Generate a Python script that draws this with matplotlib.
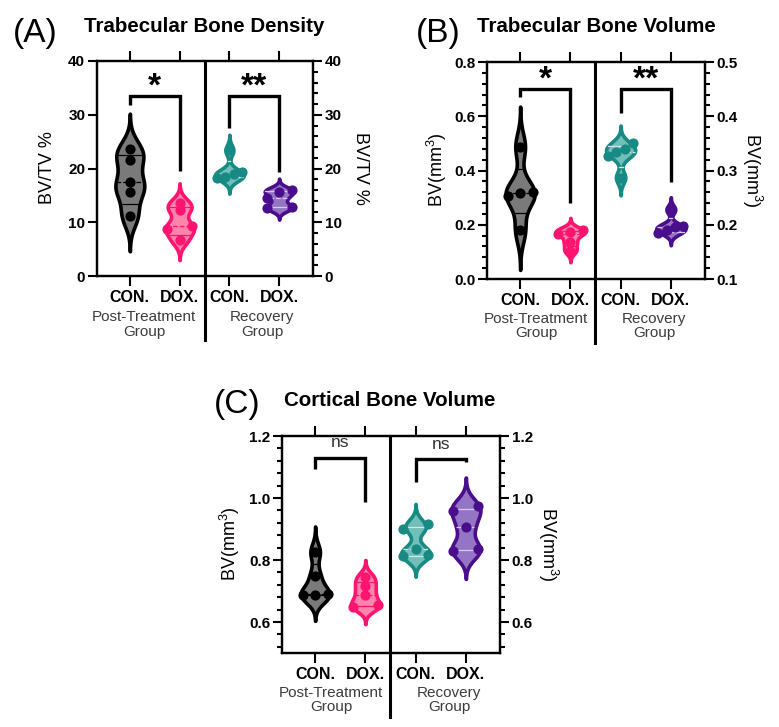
import numpy as np
import matplotlib
matplotlib.use('Agg')
import matplotlib.pyplot as plt
from matplotlib import transforms

plt.rcParams['font.family'] = ['Liberation Sans', 'DejaVu Sans']
plt.rcParams['mathtext.fontset'] = 'custom'
plt.rcParams['mathtext.rm'] = 'Liberation Sans'
plt.rcParams['mathtext.default'] = 'regular'

##########################################################################
# Data

groups = ['CON.', 'DOX.', 'CON.', 'DOX.']

## (A) Trabecular bone density, BV/TV %
a_post_con = [23.6, 21.5, 17.4, 15.7, 11.2]
a_post_dox = [13.5, 12.3, 9.3, 8.7, 6.7]
a_rec_con = [23.4, 19.4, 18.9, 18.5, 18.2]
a_rec_dox = [16.0, 15.7, 14.6, 12.9, 12.6]
a_sig = ['*', '**']
a_brackets = [(31.9, 33.5, 19.6), (27.5, 33.5, 19.4)]   # left leg end, top, right leg end

## (B) Trabecular bone volume, mm^3 (recovery on right axis)
b_post_con = [0.488, 0.32, 0.318, 0.306, 0.181]
b_post_dox = [0.182, 0.175, 0.165, 0.135, 0.105]
b_rec_con = [0.35, 0.34, 0.335, 0.327, 0.287]
b_rec_dox = [0.228, 0.198, 0.195, 0.19, 0.185]
b_sig = ['*', '**']
b_brackets = [(0.672, 0.702, 0.279), (0.613, 0.702, 0.359)]

## (C) Cortical bone volume, mm^3
c_post_con = [0.826, 0.748, 0.69, 0.688, 0.686]
c_post_dox = [0.745, 0.716, 0.686, 0.656, 0.648]
c_rec_con = [0.915, 0.9, 0.835, 0.815, 0.812]
c_rec_dox = [0.975, 0.957, 0.907, 0.834, 0.83]
c_sig = ['ns', 'ns']
c_brackets = [(1.095, 1.13, 0.988), (1.052, 1.125, 1.117)]

##########################################################################

W, H = 779, 727
fig = plt.figure(figsize=(W / 100, H / 100), dpi=100)

## Colors: edge, fill, quartile lines
c = {'con_post': ('#000000', '#7a7a7a', '#000000'),
     'dox_post': ('#ff1470', '#ff85ad', '#ff1470'),
     'con_rec': ('#168a83', '#72beb8', '#c9ece9'),
     'dox_rec': ('#4a0e8c', '#9474c4', '#d6c8ee')}


def fx(px):
    return px / W


def fy(py):
    return 1 - py / H


def make_axes(left, top, right, bottom):
    return fig.add_axes([fx(left), fy(bottom), (right - left) / W, (bottom - top) / H])


def violin(ax, vals, pos, col):
    edge, fill, qcol = col
    vals = np.asarray(vals, dtype=float)
    bw = 0.45 * vals.std(ddof=1)
    grid = np.linspace(vals.min() - 3 * bw, vals.max() + 3 * bw, 400)
    dens = np.exp(-0.5 * ((grid[:, None] - vals[None, :]) / bw) ** 2).sum(axis=1)
    half = 0.29 * dens / dens.max()
    ax.fill_betweenx(grid, pos - half, pos + half, facecolor=fill, edgecolor=edge,
                     lw=2.6, joinstyle='round', zorder=2)
    q1, med, q3 = np.percentile(vals, [25, 50, 75], method='weibull')
    for q, ls in ((q1, '-'), (med, '--'), (q3, '-')):
        w = np.interp(q, grid, half)
        ax.plot([pos - w, pos + w], [q, q], color=qcol, lw=0.9, ls=ls, zorder=3)
    # simple swarm: spread points that sit too close together (in pixels)
    bbox = ax.get_position()
    ylo, yhi = ax.get_ylim()
    ppu = bbox.height * H / (yhi - ylo)
    sv = np.sort(vals)
    offs = np.zeros(len(vals))
    clusters = [[0]]
    for i in range(1, len(sv)):
        if (sv[i] - sv[i - 1]) * ppu < 6:
            clusters[-1].append(i)
        else:
            clusters.append([i])
    for cl in clusters:
        if len(cl) > 1:
            offs[cl] = np.linspace(-1, 1, len(cl))
    ax.scatter(pos + offs * 0.25, sv, s=54, color=edge, linewidths=0, zorder=4)


def bracket(ax, x1, x2, br, text, ns=False):
    y1, top, y2 = br
    ax.plot([x1, x1, x2, x2], [y1, top, top, y2], color='black', lw=2.4,
            solid_joinstyle='miter', solid_capstyle='butt', zorder=5, clip_on=False)
    if ns:
        ax.annotate(text, xy=((x1 + x2) / 2, top), xytext=(0, 7.5), textcoords='offset points',
                    ha='center', va='baseline', fontsize=12.5, color='#333333')
    else:
        ax.annotate(text, xy=((x1 + x2) / 2, top), xytext=(0, 0), textcoords='offset points',
                    ha='center', va='baseline', fontsize=24, fontweight='bold')


def setup_y(ax, lim, major, minor, fmt, side):
    ax.set_ylim(*lim)
    start = major * np.ceil(lim[0] / major - 1e-9)
    ticks = np.round(np.arange(start, lim[1] + 1e-9, major), 6) + 0.0
    ax.set_yticks(ticks)
    ax.set_yticklabels([fmt.format(t) for t in ticks], fontweight='bold', fontsize=11)
    if minor:
        mstart = minor * np.ceil(lim[0] / minor - 1e-9)
        ax.set_yticks(np.arange(mstart, lim[1] + 1e-9, minor), minor=True)
    ax.tick_params(axis='y', which='major', length=6.5, width=1.5, pad=2)
    ax.tick_params(axis='y', which='minor', length=3.5, width=1.5)
    if side == 'right':
        ax.yaxis.tick_right()


def panel(rect, data, lims, majors, minors, fmts, brs, sigs, ylabel, ylab_x, title, letter,
          title_pos, letter_pos, grp_pos, ns=False):
    left, top, right, bottom = rect
    ax = make_axes(left, top, right, bottom)
    ax.set_xlim(-0.66, 3.68)
    setup_y(ax, lims[0], majors[0], minors[0], fmts[0], 'left')
    ax2 = ax.twinx()
    ax2.set_xlim(-0.66, 3.68)
    setup_y(ax2, lims[1], majors[1], minors[1], fmts[1], 'right')
    for a in (ax, ax2):
        for s in a.spines.values():
            s.set_linewidth(1.6)

    ax.set_xticks(range(4))
    ax.set_xticklabels(groups, fontweight='bold', fontsize=11.5)
    ax.tick_params(axis='x', which='major', top=True, direction='out', length=7, width=1.5, pad=3)

    violin(ax, data[0], 0, c['con_post'])
    violin(ax, data[1], 1, c['dox_post'])
    violin(ax2, data[2], 2, c['con_rec'])
    violin(ax2, data[3], 3, c['dox_rec'])

    bracket(ax, 0, 1, brs[0], sigs[0], ns)
    bracket(ax, 2, 3, brs[1], sigs[1], ns)

    ## Divider between groups, running below the axis
    trans = transforms.blended_transform_factory(ax.transData, ax.transAxes)
    ax.plot([1.5, 1.5], [1, -0.296], color='black', lw=2.2, transform=trans, clip_on=False, zorder=6)

    ## Labels
    ymid = (top + bottom) / 2 - 0.5
    fig.text(fx(ylab_x[0]), fy(ymid), ylabel, rotation=90, ha='center', va='center', fontsize=13)
    fig.text(fx(ylab_x[1]), fy(ymid), ylabel, rotation=-90, ha='center', va='center', fontsize=13)
    fig.text(fx(title_pos[0]), fy(title_pos[1]), title, ha='center', va='baseline',
             fontsize=14.8, fontweight='bold')
    fig.text(fx(letter_pos[0]), fy(letter_pos[1]), letter, ha='center', va='baseline', fontsize=24)
    for (gx, gy), txt in zip(grp_pos, ['Post-Treatment\nGroup', 'Recovery\nGroup']):
        fig.text(fx(gx), fy(gy), txt, ha='center', va='center', fontsize=11,
                 color='#3c3c3c', linespacing=1.05)
    return ax, ax2


# (A)
panel((97, 61, 313, 276), [a_post_con, a_post_dox, a_rec_con, a_rec_dox],
      [(0, 40), (0, 40)], [10, 10], [None, 2], ['{:.0f}', '{:.0f}'], a_brackets, a_sig,
      'BV/TV %', (47, 361), 'Trabecular Bone Density', '(A)',
      (204, 31.7), (35, 41.7), [(144, 324.7), (262, 324.7)])

# (B)
panel((487, 62, 705, 279), [b_post_con, b_post_dox, b_rec_con, b_rec_dox],
      [(0, 0.8), (0.1, 0.5)], [0.2, 0.1], [0.04, 0.02], ['{:.1f}', '{:.1f}'], b_brackets, b_sig,
      'BV(mm$^3$)', (437, 752), 'Trabecular Bone Volume', '(B)',
      (596, 31.7), (438, 41.7), [(536, 326), (654, 326)])

# (C)
panel((282, 436, 500, 653), [c_post_con, c_post_dox, c_rec_con, c_rec_dox],
      [(0.5, 1.2), (0.5, 1.2)], [0.2, 0.2], [0.04, 0.04], ['{:.1f}', '{:.1f}'], c_brackets, c_sig,
      'BV(mm$^3$)', (230, 548), 'Cortical Bone Volume', '(C)',
      (390, 406), (237, 413), [(331, 700), (449, 700)], ns=True)

fig.savefig('out.png', dpi=100)
